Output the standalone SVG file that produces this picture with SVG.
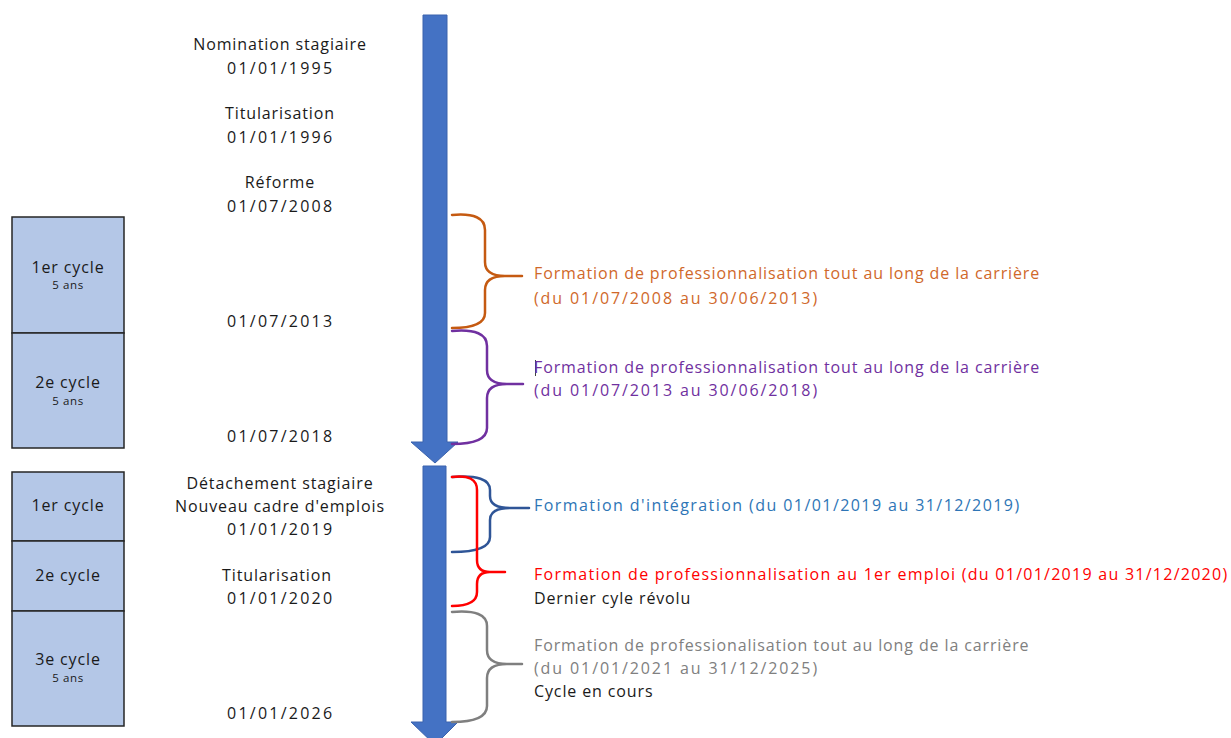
<svg xmlns="http://www.w3.org/2000/svg" width="1231" height="738" viewBox="0 0 1231 738">
<style>
  text { font-family: "Open Sans", "Liberation Sans", sans-serif; font-size: 16px; letter-spacing: 0.88px; fill: #1a1a1a; }
  .c { text-anchor: middle; }
  .small { font-size: 11.5px; letter-spacing: 0.6px; }
  .box { fill: #b4c7e7; stroke: #262626; stroke-width: 1.5; }
  .arrow { fill: #4472c4; stroke: #3a62ad; stroke-width: 1; }
  .brace { fill: none; stroke-width: 2.5; stroke-linecap: round; stroke-linejoin: round; }
  .or { fill: #d0682a; } .pu { fill: #7030a0; } .bl { fill: #2e75b6; } .rd { fill: #ff0000; } .gy { fill: #808080; }
</style>
<rect width="1231" height="738" fill="#ffffff"/>

<g id="arrows">
  <path class="arrow" d="M423,15 H447 V442 H458 L435,463 L411,442 H423 Z"/>
  <path class="arrow" d="M423,466 H446 V722 H458 L435,745 L411,722 H423 Z"/>
</g>

<g id="cycles-top">
  <rect class="box" x="12" y="217" width="112" height="116"/>
  <rect class="box" x="12" y="333" width="112" height="115"/>
  <text class="c" x="68" y="273">1er cycle</text>
  <text class="c small" x="68" y="289">5 ans</text>
  <text class="c" x="68" y="388">2e cycle</text>
  <text class="c small" x="68" y="405">5 ans</text>
</g>

<g id="cycles-bottom">
  <rect class="box" x="12" y="472" width="112" height="69"/>
  <rect class="box" x="12" y="541" width="112" height="70"/>
  <rect class="box" x="12" y="611" width="112" height="115"/>
  <text class="c" x="68" y="511">1er cycle</text>
  <text class="c" x="68" y="581">2e cycle</text>
  <text class="c" x="68" y="665">3e cycle</text>
  <text class="c small" x="68" y="682">5 ans</text>
</g>

<g id="dates">
  <text class="c" x="280" y="50">Nomination stagiaire</text>
  <text class="c" x="280" y="74" textLength="106" lengthAdjust="spacing">01/01/1995</text>
  <text class="c" x="280" y="119">Titularisation</text>
  <text class="c" x="280" y="143" textLength="106" lengthAdjust="spacing">01/01/1996</text>
  <text class="c" x="280" y="188">Réforme</text>
  <text class="c" x="280" y="212" textLength="106" lengthAdjust="spacing">01/07/2008</text>
  <text class="c" x="280" y="327" textLength="106" lengthAdjust="spacing">01/07/2013</text>
  <text class="c" x="280" y="442" textLength="106" lengthAdjust="spacing">01/07/2018</text>
  <text class="c" x="280" y="489">Détachement stagiaire</text>
  <text class="c" x="280" y="512">Nouveau cadre d'emplois</text>
  <text class="c" x="280" y="535" textLength="106" lengthAdjust="spacing">01/01/2019</text>
  <text class="c" x="277" y="581">Titularisation</text>
  <text class="c" x="280" y="604" textLength="106" lengthAdjust="spacing">01/01/2020</text>
  <text class="c" x="280" y="719" textLength="106" lengthAdjust="spacing">01/01/2026</text>
</g>

<g id="connectors">
  <path class="brace" stroke="#c55a11" d="M452,215 Q485,212 485,230 L485,262 Q485,276 505,276 L522,276 M505,276 Q485,276 485,290 L485,313 Q485,328 452,328"/>
  <path class="brace" stroke="#7030a0" d="M452,331 Q487,328 487,346 L487,370 Q487,384 507,384 L523,384 M507,384 Q487,384 487,398 L487,428 Q487,444 452,444"/>
  <path class="brace" stroke="#2f5597" d="M452,477 Q490,474 490,490 L490,496 Q490,508 510,508 L529,508 M510,508 Q490,508 490,520 L490,537 Q490,552 452,552"/>
  <path class="brace" stroke="#ff0000" stroke-width="3" d="M452,477 Q477,474 477,490 L477,560 Q477,572 490,572 L505,572 M490,572 Q477,572 477,584 L477,592 Q477,606 452,606"/>
  <path class="brace" stroke="#7f7f7f" d="M452,612 Q487,609 487,626 L487,650 Q487,664 507,664 L522,664 M507,664 Q487,664 487,678 L487,706 Q487,722 452,722"/>
</g>

<g id="labels">
  <text class="or" x="534" y="279">Formation de professionnalisation tout au long de la carrière</text>
  <text class="or" x="534" y="304" textLength="284" lengthAdjust="spacing">(du 01/07/2008 au 30/06/2013)</text>
  <line x1="535.5" y1="360" x2="535.5" y2="376" stroke="#404040" stroke-width="1"/>
  <text class="pu" x="534" y="373">Formation de professionnalisation tout au long de la carrière</text>
  <text class="pu" x="534" y="396" textLength="284" lengthAdjust="spacing">(du 01/07/2013 au 30/06/2018)</text>
  <text class="bl" x="534" y="511" textLength="486" lengthAdjust="spacing">Formation d'intégration (du 01/01/2019 au 31/12/2019)</text>
  <text class="rd" x="534" y="580" textLength="694" lengthAdjust="spacing">Formation de professionnalisation au 1er emploi (du 01/01/2019 au 31/12/2020)</text>
  <text x="534" y="604">Dernier cyle révolu</text>
  <text class="gy" x="534" y="651">Formation de professionalisation tout au long de la carrière</text>
  <text class="gy" x="534" y="674" textLength="284" lengthAdjust="spacing">(du 01/01/2021 au 31/12/2025)</text>
  <text x="534" y="697">Cycle en cours</text>
</g>
</svg>
